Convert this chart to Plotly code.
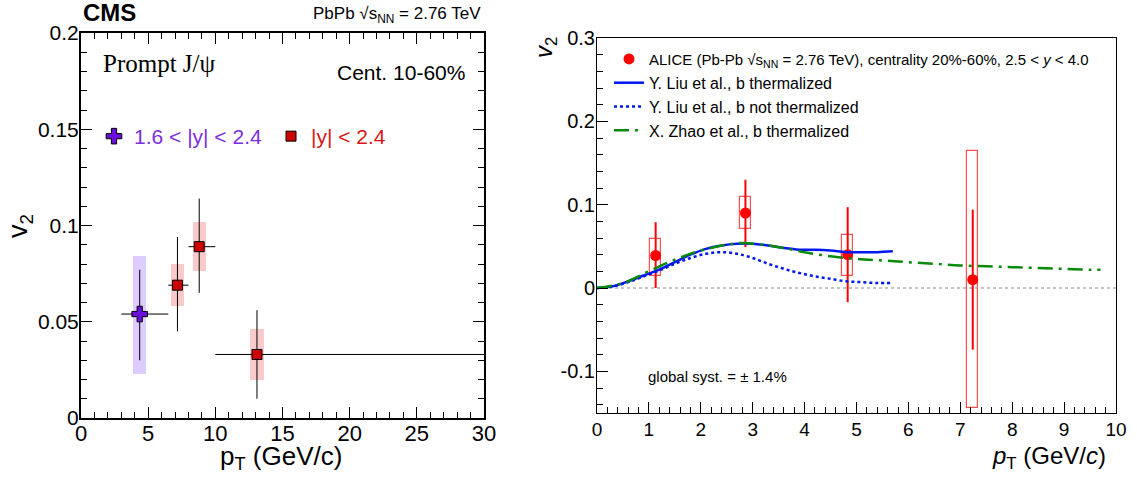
import plotly.graph_objects as go

W, H = 1137, 481

# ---------------- Left panel (CMS) data ----------------
cms_fwd_pt = [4.37]
cms_fwd_v2 = [0.054]
cms_fwd_xlo = [3.0]
cms_fwd_xhi = [6.5]
cms_fwd_stat_lo = [0.030]
cms_fwd_stat_hi = [0.077]
cms_fwd_syst_lo = [0.023]
cms_fwd_syst_hi = [0.084]

cms_mid_pt = [7.18, 8.8, 13.1]
cms_mid_v2 = [0.069, 0.089, 0.033]
cms_mid_xlo = [6.5, 8.0, 10.0]
cms_mid_xhi = [8.0, 10.0, 30.0]
cms_mid_stat_lo = [0.045, 0.065, 0.010]
cms_mid_stat_hi = [0.094, 0.114, 0.056]
cms_mid_syst_lo = [0.058, 0.0765, 0.020]
cms_mid_syst_hi = [0.080, 0.102, 0.046]

# ---------------- Right panel (ALICE) data ----------------
alice_pt = [1.13, 2.86, 4.83, 7.24]
alice_v2 = [0.039, 0.090, 0.040, 0.010]
alice_stat_lo = [0.000, 0.049, -0.017, -0.074]
alice_stat_hi = [0.079, 0.130, 0.097, 0.094]
alice_syst_lo = [0.014, 0.071, 0.015, -0.144]
alice_syst_hi = [0.059, 0.109, 0.064, 0.164]

liu_th_pt = [0, 0.3, 0.6, 0.9, 1.2, 1.5, 1.8, 2.1, 2.4, 2.7, 3.0, 3.3, 3.6, 3.9, 4.2, 4.5, 4.8, 5.1, 5.4, 5.7]
liu_th_v2 = [0, 0.002, 0.008, 0.015, 0.022, 0.031, 0.040, 0.047, 0.051, 0.053, 0.053, 0.051, 0.048, 0.046, 0.046, 0.045, 0.043, 0.043, 0.043, 0.044]
liu_nth_pt = [0, 0.3, 0.6, 0.9, 1.2, 1.5, 1.8, 2.1, 2.4, 2.7, 3.0, 3.3, 3.6, 3.9, 4.2, 4.5, 4.8, 5.1, 5.4, 5.7]
liu_nth_v2 = [0, 0.002, 0.007, 0.014, 0.021, 0.029, 0.036, 0.041, 0.043, 0.041, 0.036, 0.029, 0.023, 0.018, 0.014, 0.011, 0.008, 0.007, 0.006, 0.006]
zhao_pt = [0, 0.5, 1.0, 1.5, 2.0, 2.5, 2.8, 3.2, 3.6, 4.0, 4.5, 5.0, 5.5, 6.0, 6.5, 7.0, 7.5, 8.0, 8.5, 9.0, 9.5, 9.7]
zhao_v2 = [0, 0.006, 0.020, 0.034, 0.045, 0.052, 0.054, 0.052, 0.048, 0.043, 0.038, 0.035, 0.033, 0.031, 0.029, 0.027, 0.026, 0.025, 0.024, 0.023, 0.022, 0.022]

left_yticks = [0, 0.05, 0.1, 0.15, 0.2]
left_yticktext = ["0", "0.05", "0.1", "0.15", "0.2"]
left_xticks = [0, 5, 10, 15, 20, 25, 30]
right_yticks = [-0.1, 0, 0.1, 0.2, 0.3]
right_yticktext = ["-0.1", "0", "0.1", "0.2", "0.3"]
right_xticks = list(range(0, 11))

FONT = "Liberation Sans, Arial, sans-serif"
PURPLE = "#6a10d8"
PURPLE_TXT = "#7b2ee0"
PURPLE_BOX = "#ddccff"
RED = "#cc0000"
RED_TXT = "#d81414"
RED_BOX = "#f9caca"
ALICE_RED = "#ff0000"

def diff(a, b):
    return [x - y for x, y in zip(a, b)]

fig = go.Figure()

# CMS systematic boxes
fig.add_trace(go.Bar(x=cms_fwd_pt, y=diff(cms_fwd_syst_hi, cms_fwd_syst_lo), base=cms_fwd_syst_lo,
                     width=[1.0] * len(cms_fwd_pt), marker=dict(color=PURPLE_BOX, line=dict(width=0)),
                     showlegend=False, xaxis="x", yaxis="y", hoverinfo="skip"))
fig.add_trace(go.Bar(x=cms_mid_pt, y=diff(cms_mid_syst_hi, cms_mid_syst_lo), base=cms_mid_syst_lo,
                     width=[1.0] * len(cms_mid_pt), marker=dict(color=RED_BOX, line=dict(width=0)),
                     showlegend=False, xaxis="x", yaxis="y", hoverinfo="skip"))

# CMS points
fig.add_trace(go.Scatter(
    x=cms_fwd_pt, y=cms_fwd_v2, mode="markers",
    name=f"<span style='color:{PURPLE_TXT}'>1.6 &lt; |y| &lt; 2.4</span>",
    marker=dict(symbol="cross", size=13, color=PURPLE, line=dict(color="black", width=1)),
    error_y=dict(type="data", symmetric=False, array=diff(cms_fwd_stat_hi, cms_fwd_v2),
                 arrayminus=diff(cms_fwd_v2, cms_fwd_stat_lo), color="black", thickness=1, width=0),
    error_x=dict(type="data", symmetric=False, array=diff(cms_fwd_xhi, cms_fwd_pt),
                 arrayminus=diff(cms_fwd_pt, cms_fwd_xlo), color="black", thickness=1, width=0),
    xaxis="x", yaxis="y", legend="legend2"))
fig.add_trace(go.Scatter(
    x=cms_mid_pt, y=cms_mid_v2, mode="markers",
    name=f"<span style='color:{RED_TXT}'>|y| &lt; 2.4</span>",
    marker=dict(symbol="square", size=10, color=RED, line=dict(color="black", width=1)),
    error_y=dict(type="data", symmetric=False, array=diff(cms_mid_stat_hi, cms_mid_v2),
                 arrayminus=diff(cms_mid_v2, cms_mid_stat_lo), color="black", thickness=1, width=0),
    error_x=dict(type="data", symmetric=False, array=diff(cms_mid_xhi, cms_mid_pt),
                 arrayminus=diff(cms_mid_pt, cms_mid_xlo), color="black", thickness=1, width=0),
    xaxis="x", yaxis="y", legend="legend2"))

# ALICE systematic boxes (open)
fig.add_trace(go.Bar(x=alice_pt, y=diff(alice_syst_hi, alice_syst_lo), base=alice_syst_lo,
                     width=[0.21] * len(alice_pt),
                     marker=dict(color="rgba(0,0,0,0)", line=dict(color="#ff5050", width=1.2)),
                     showlegend=False, xaxis="x2", yaxis="y2", hoverinfo="skip"))

# ALICE points
fig.add_trace(go.Scatter(
    x=alice_pt, y=alice_v2, mode="markers",
    name="<span style='font-size:15px'>ALICE (Pb-Pb √s<sub>NN</sub> = 2.76 TeV), centrality 20%-60%, 2.5 &lt; <i>y</i> &lt; 4.0</span>",
    marker=dict(symbol="circle", size=11, color=ALICE_RED),
    error_y=dict(type="data", symmetric=False, array=diff(alice_stat_hi, alice_v2),
                 arrayminus=diff(alice_v2, alice_stat_lo), color=ALICE_RED, thickness=2, width=0),
    xaxis="x2", yaxis="y2", legendgroup="a"))

# Models
fig.add_trace(go.Scatter(x=liu_th_pt, y=liu_th_v2, mode="lines", line=dict(color="#0018f0", width=2.5, shape="spline"),
                         name="Y. Liu et al., b thermalized", xaxis="x2", yaxis="y2", legendgroup="b"))
fig.add_trace(go.Scatter(x=liu_nth_pt, y=liu_nth_v2, mode="lines", line=dict(color="#0018f0", width=2.5, dash="dot", shape="spline"),
                         name="Y. Liu et al., b not thermalized", xaxis="x2", yaxis="y2", legendgroup="c"))
fig.add_trace(go.Scatter(x=zhao_pt, y=zhao_v2, mode="lines", line=dict(color="#0a8a0a", width=2.5, dash="longdashdot", shape="spline"),
                         name="X. Zhao et al., b thermalized", xaxis="x2", yaxis="y2", legendgroup="d"))

def px(x):
    return x / W

def py(y):
    return 1 - y / H

fig.update_layout(
    width=W, height=H, margin=dict(l=0, r=0, t=0, b=0, autoexpand=False),
    paper_bgcolor="white", plot_bgcolor="white",
    font=dict(family=FONT, color="black"),
    barmode="overlay", bargap=0,
    xaxis=dict(domain=[px(81), px(484)], range=[0, 30], tickvals=left_xticks,
               showgrid=False, zeroline=False, showline=True, linecolor="black", linewidth=2,
               mirror="allticks", ticks="inside", ticklen=11, tickwidth=1, tickcolor="black",
               tickfont=dict(size=22), ticklabelstandoff=-5,
               minor=dict(dtick=1, ticks="inside", ticklen=6, tickcolor="black"),
               anchor="y", automargin=False),
    yaxis=dict(domain=[py(418), py(33)], range=[0, 0.2], tickvals=left_yticks, ticktext=left_yticktext,
               showgrid=False, zeroline=False, showline=True, linecolor="black", linewidth=2,
               mirror="allticks", ticks="inside", ticklen=11, tickwidth=1, tickcolor="black",
               tickfont=dict(size=21), ticklabelstandoff=-4,
               minor=dict(dtick=0.01, tick0=0, ticks="inside", ticklen=6, tickcolor="black"),
               anchor="x", automargin=False),
    xaxis2=dict(domain=[px(597), px(1116)], range=[0, 10], tickvals=right_xticks,
                showgrid=False, zeroline=False, showline=True, linecolor="black", linewidth=1,
                mirror=True, ticks="inside", ticklen=11, tickwidth=1, tickcolor="black",
                tickfont=dict(size=19), ticklabelstandoff=-1,
                minor=dict(dtick=0.2, ticks="inside", ticklen=6, tickcolor="black"),
                anchor="y2", automargin=False),
    yaxis2=dict(domain=[py(413), py(38)], range=[-0.15, 0.3], tickvals=right_yticks, ticktext=right_yticktext,
                showgrid=False, zeroline=False, showline=True, linecolor="black", linewidth=1,
                mirror=True, ticks="inside", ticklen=11, tickwidth=1, tickcolor="black",
                tickfont=dict(size=20), ticklabelstandoff=-3,
                minor=dict(dtick=0.02, tick0=0, ticks="inside", ticklen=6, tickcolor="black"),
                anchor="x2", automargin=False),
    legend=dict(x=px(609), y=py(42), xanchor="left", yanchor="top", bgcolor="rgba(0,0,0,0)",
                font=dict(size=16), tracegroupgap=0, traceorder="grouped"),
    legend2=dict(x=px(94), y=py(116), xanchor="left", yanchor="top", orientation="h",
                 bgcolor="rgba(0,0,0,0)", font=dict(size=21), entrywidth=132),
    shapes=[dict(type="line", xref="x2", yref="y2", x0=0, x1=10, y0=0, y1=0,
                 line=dict(color="#888888", width=1, dash="dot"), layer="below")],
)

ann = [
    dict(text="<b>CMS</b>", x=px(81), y=py(13), xanchor="left", yanchor="middle", font=dict(size=24)),
    dict(text="PbPb √s<sub>NN</sub> = 2.76 TeV", x=px(483), y=py(15), xanchor="right", yanchor="middle", font=dict(size=17)),
    dict(text="Prompt J/ψ", x=px(101), y=py(63), xanchor="left", yanchor="middle",
         font=dict(size=25, family="Liberation Serif, Times New Roman, serif")),
    dict(text="Cent. 10-60%", x=px(467), y=py(72), xanchor="right", yanchor="middle", font=dict(size=21)),
    dict(text="v<sub>2</sub>", x=px(20), y=py(226), xanchor="center", yanchor="middle", textangle=-90, font=dict(size=27)),
    dict(text="p<sub>T</sub> (GeV/c)", x=px(281), y=py(457), xanchor="center", yanchor="middle", font=dict(size=26)),
    dict(text="<i>v</i><sub>2</sub>", x=px(545), y=py(48), xanchor="center", yanchor="middle", textangle=-90, font=dict(size=24)),
    dict(text="<i>p</i><sub>T</sub> (GeV/<i>c</i>)", x=px(1108), y=py(457), xanchor="right", yanchor="middle", font=dict(size=24)),
    dict(text="global syst. = ± 1.4%", x=px(646), y=py(376), xanchor="left", yanchor="middle", font=dict(size=15)),
]
for a in ann:
    a.update(xref="paper", yref="paper", showarrow=False)
fig.update_layout(annotations=ann)

fig.write_html("out.html")
